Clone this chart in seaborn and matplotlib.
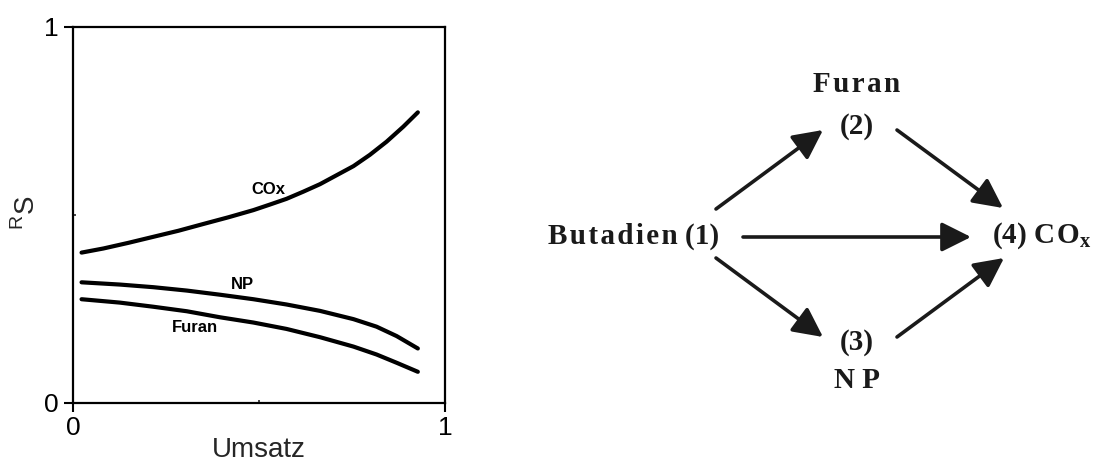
import matplotlib
matplotlib.use("Agg")
import matplotlib.pyplot as plt
import seaborn as sns
import pandas as pd

# Selectivity S^R versus conversion (Umsatz) for the three products
umsatz_cox = [0.023, 0.082, 0.149, 0.216, 0.283, 0.350, 0.418, 0.485, 0.530,
              0.574, 0.619, 0.664, 0.709, 0.754, 0.798, 0.843, 0.888, 0.927]
s_cox = [0.400, 0.411, 0.426, 0.442, 0.458, 0.476, 0.494, 0.513, 0.528,
         0.543, 0.562, 0.582, 0.606, 0.630, 0.660, 0.695, 0.735, 0.773]

umsatz_low = [0.023, 0.126, 0.216, 0.306, 0.395, 0.485, 0.574, 0.664, 0.754,
              0.816, 0.870, 0.927]
s_np = [0.321, 0.315, 0.308, 0.299, 0.288, 0.276, 0.262, 0.245, 0.223,
        0.203, 0.178, 0.145]
s_furan = [0.276, 0.267, 0.256, 0.244, 0.228, 0.214, 0.197, 0.175, 0.150,
           0.129, 0.107, 0.083]

curve_labels = ["COx", "NP", "Furan"]
label_x = [0.524, 0.456, 0.328]
label_y = [0.569, 0.316, 0.200]

x_ticks = [0, 1]
y_ticks = [0, 1]

sns.set_style("ticks")
plt.rcParams["font.family"] = ["Liberation Sans", "DejaVu Sans"]
plt.rcParams["mathtext.fontset"] = "custom"
plt.rcParams["mathtext.rm"] = "Liberation Sans"

W, H = 1102, 457
fig = plt.figure(figsize=(W / 100, H / 100), dpi=100)

# Left panel: selectivity curves
ax = fig.add_axes([73 / W, 54 / H, 372 / W, 376 / H])
series = [
    pd.DataFrame({"Umsatz": umsatz_cox, "S": s_cox}),
    pd.DataFrame({"Umsatz": umsatz_low, "S": s_np}),
    pd.DataFrame({"Umsatz": umsatz_low, "S": s_furan}),
]
for d in series:
    sns.lineplot(data=d, x="Umsatz", y="S", ax=ax, color="black",
                 linewidth=3.0, solid_capstyle="round",
                 solid_joinstyle="round", sort=False)

for lab, lx, ly in zip(curve_labels, label_x, label_y):
    ax.text(lx, ly, lab, ha="center", va="center", fontsize=12,
            fontweight="bold", color="black")

ax.set_xlim(0, 1)
ax.set_ylim(0, 1)
ax.set_xticks(x_ticks)
ax.set_yticks(y_ticks)
ax.set_xticklabels([str(t) for t in x_ticks])
ax.set_yticklabels([str(t) for t in y_ticks])
ax.set_xticks([0.5], minor=True)
ax.set_yticks([0.5], minor=True)
ax.tick_params(which="major", direction="out", length=6.5, width=1.5,
               labelsize=19, colors="black", pad=4)
ax.tick_params(axis="x", which="major", pad=3)
ax.tick_params(which="minor", direction="in", length=2, width=1.2)
for sp in ax.spines.values():
    sp.set_visible(True)
    sp.set_linewidth(1.6)
    sp.set_color("black")

ax.set_xlabel("Umsatz", fontsize=20, labelpad=-2)
ax.set_ylabel(r"$^{\mathregular{R}}$S", fontsize=20)
ax.yaxis.set_label_coords(-0.085, 0.505)

# Right panel: reaction network
net = fig.add_axes([0, 0, 1, 1])
net.set_xlim(0, W)
net.set_ylim(H, 0)
net.axis("off")
net.patch.set_alpha(0)

serif = ["Liberation Serif", "DejaVu Serif"]
hs = "\u200a"


def spaced(s):
    return hs.join(s)


node_style = dict(family=serif, fontweight="bold", fontsize=21,
                  color="#1a1a1a", ha="center", va="center")
net.text(857, 85, spaced("Furan"), **node_style)
net.text(857, 127, "(2)", **node_style)
net.text(634, 236, spaced("Butadien") + " (1)", **node_style)
net.text(857, 343, "(3)", **node_style)
net.text(857, 380, "N P", **node_style)
net.text(992, 236, "(4) C" + hs + r"O$_{\mathregular{x}}$",
         **{**node_style, "ha": "left"})

arrows = [
    ((716, 209), (823, 130)),
    ((897, 130), (1003, 208)),
    ((743, 237), (971, 237)),
    ((716, 258), (823, 337)),
    ((897, 337), (1004, 258)),
]
for tail, tip in arrows:
    net.annotate("", xy=tip, xytext=tail,
                 arrowprops=dict(arrowstyle="-|>,head_length=0.9,head_width=0.45",
                                 lw=2.6, color="#1a1a1a", shrinkA=0, shrinkB=0,
                                 mutation_scale=20))

fig.savefig("out.png", dpi=100)
